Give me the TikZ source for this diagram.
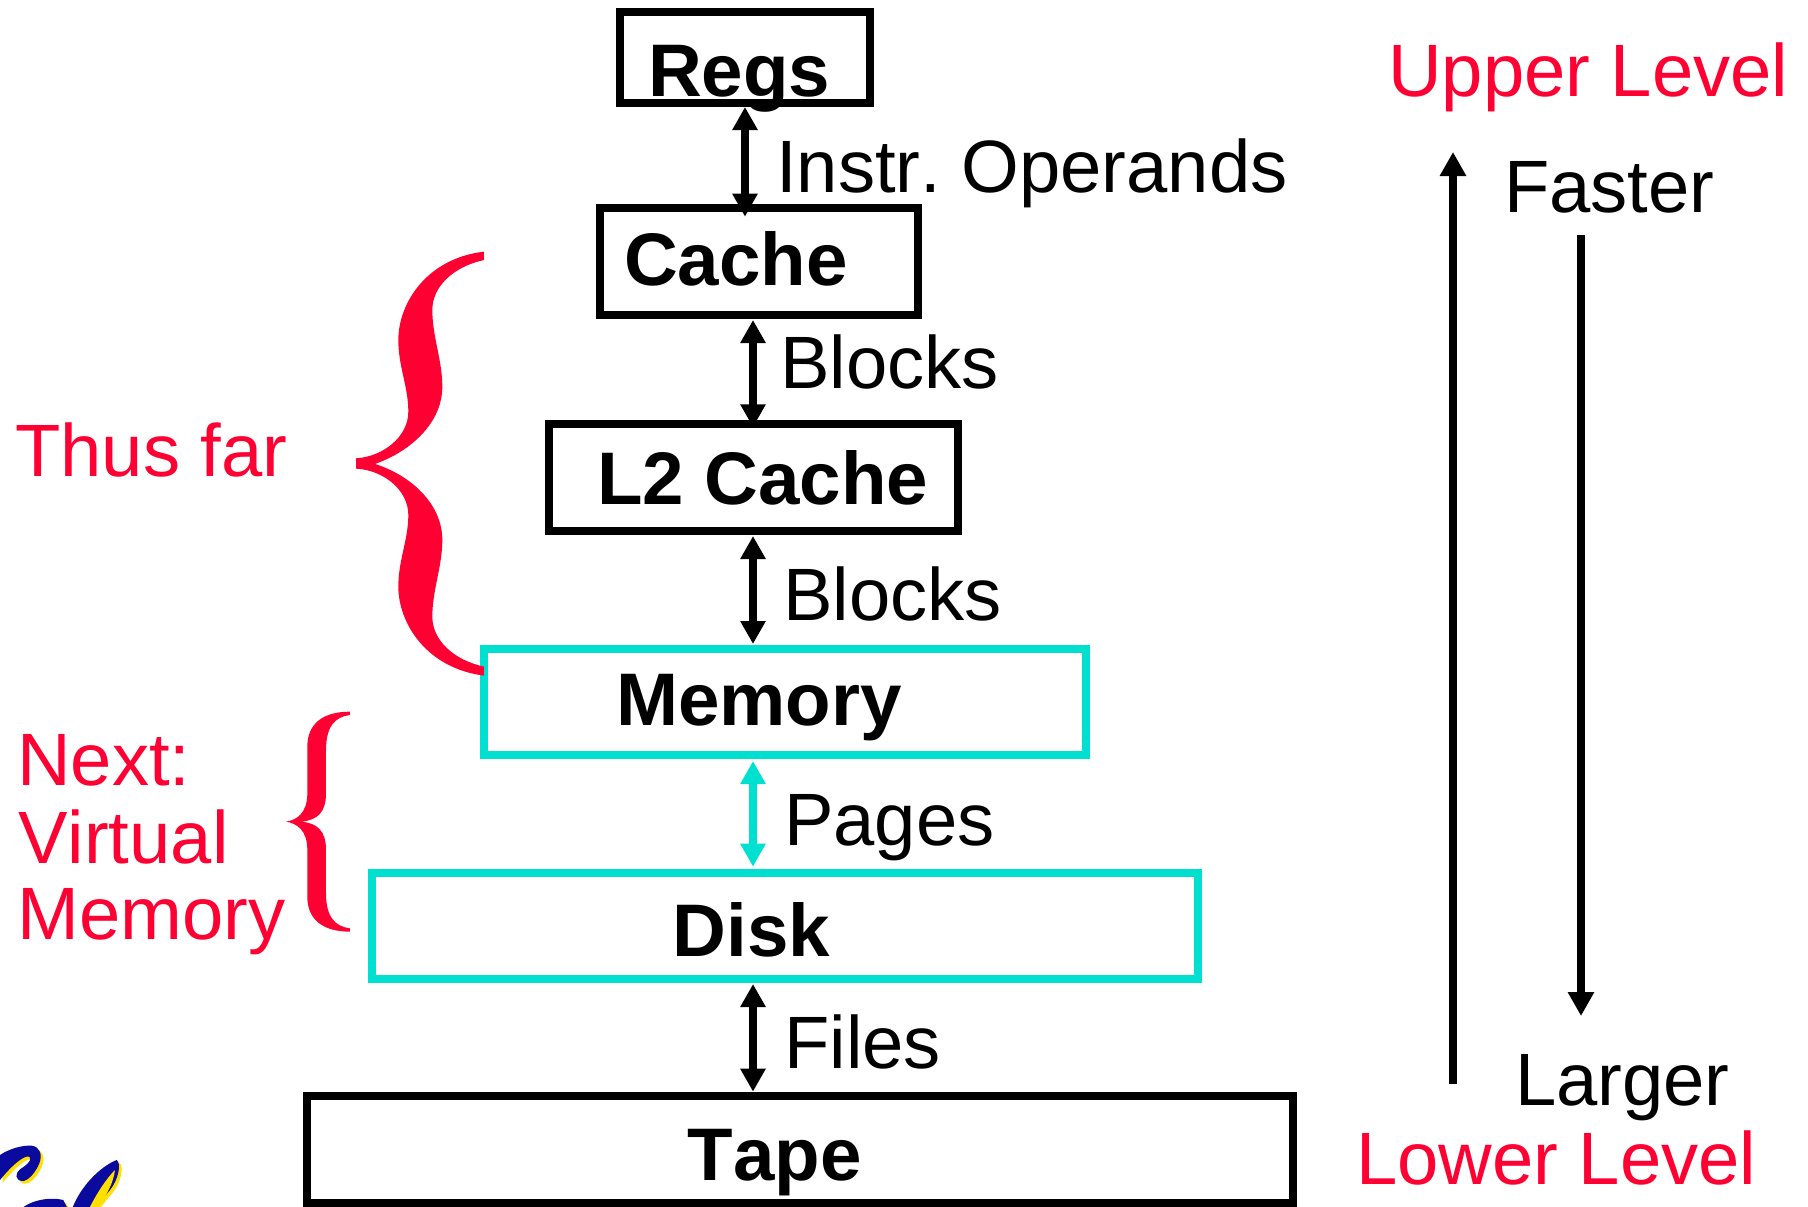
\documentclass[tikz,border=0pt]{standalone}
\usepackage{fontspec}
\setmainfont[Kerning=Off]{Liberation Sans}
\usetikzlibrary{arrows.meta}
\definecolor{hotred}{HTML}{FF0033}
\definecolor{teal2}{HTML}{00E0D0}
\definecolor{calblue}{HTML}{0A0A9E}
\definecolor{calgold}{HTML}{FFE000}
\tikzset{
  levelbox/.style={draw=black,line width=8pt,inner sep=0pt,outer sep=0pt,anchor=north west},
  vmbox/.style={levelbox,draw=teal2},
  boxlabel/.style={font=\fontsize{74.5}{76}\selectfont\bfseries,inner sep=0pt,anchor=base west},
  txt/.style={font=\fontsize{74.2}{76}\selectfont,inner sep=0pt,anchor=base west},
  redtxt/.style={txt,text=hotred},
  biarrow/.style={line width=7.5pt,{Triangle[length=23pt,width=24pt]}-{Triangle[length=23pt,width=24pt]}},
  longarrow/.style={line width=7.5pt,-{Triangle[length=24pt,width=25pt]}},
}
\begin{document}
\frenchspacing
\begin{tikzpicture}[x=1pt,y=-1pt]
\useasboundingbox (0,0) rectangle (1808,1207);
% boxes
\node[levelbox,minimum width=250.6pt,minimum height=91.3pt] (regs) at (619.7,12) {};
\node[levelbox,minimum width=318.6pt,minimum height=107pt] (cache) at (599.7,208.3) {};
\node[levelbox,minimum width=409pt,minimum height=107pt] (l2) at (549.4,424.3) {};
\node[vmbox,minimum width=602.3pt,minimum height=106.6pt] (mem) at (484,648.7) {};
\node[vmbox,minimum width=826.6pt,minimum height=106.3pt] (disk) at (371.7,872.7) {};
\node[levelbox,minimum width=986pt,minimum height=107pt] (tape) at (307.3,1096.3) {};
% box labels
\node[boxlabel] (lregs) at (648,96.7) {Regs};
\node[boxlabel] (lcache) at (624,285) {Cache};
\node[boxlabel] (ll2) at (597,504.6) {L2 Cache};
\node[boxlabel] (lmem) at (616,725) {Memory};
\node[boxlabel] (ldisk) at (672.5,956.7) {Disk};
\node[boxlabel] (ltape) at (687.5,1180.7) {Tape};
% connector labels
\node[txt] (t1) at (776,192) {Instr. Operands};
\node[txt] (t2) at (780,388.3) {Blocks};
\node[txt] (t3) at (783,620) {Blocks};
\node[txt] (t4) at (784,845) {Pages};
\node[txt] (t5) at (784,1068) {Files};
% connectors
\coordinate (ax) at (745,0);
\coordinate (bx) at (753,0);
\draw[biarrow,shorten <=3.7pt,shorten >=-8.4pt] (regs.south -| ax) -- (cache.north -| ax);
\draw[biarrow,shorten <=4.7pt,shorten >=-3pt] (cache.south -| bx) -- (l2.north -| bx);
\draw[biarrow,shorten <=4.7pt,shorten >=4.7pt] (l2.south -| bx) -- (mem.north -| bx);
\draw[biarrow,draw=teal2,fill=teal2,shorten <=5.7pt,shorten >=6pt] (mem.south -| bx) -- (disk.north -| bx);
\draw[biarrow,shorten <=5pt,shorten >=4.6pt] (disk.south -| bx) -- (tape.north -| bx);
% right side
\node[redtxt] (upper) at (1388,96) {Upper Level};
\node[txt] (faster) at (1504,212.5) {Faster};
\node[txt] (larger) at (1515,1105) {Larger};
\node[redtxt] (lower) at (1356,1184) {Lower Level};
\coordinate (upa) at (1453,1084);
\coordinate (upb) at (1453,152);
\coordinate (dna) at (1581,235);
\coordinate (dnb) at (1581,1016);
\draw[longarrow] (upa) -- (upb);
\draw[longarrow] (dna) -- (dnb);
% left text
\node[redtxt] (thus) at (15,476) {Thus far};
\node[redtxt] (next1) at (17,785) {Next:};
\node[redtxt] (next2) at (18,863) {Virtual};
\node[redtxt] (next3) at (17,939) {Memory};
% braces
\begin{scope}[shift={(340,230)},x=0.3333pt,y=-0.3333pt]
\fill[hotred] (432,65) .. controls (260,85) and (175,220) .. (175,330)
  .. controls (175,410) and (205,470) .. (205,545)
  .. controls (205,620) and (130,680) .. (48,685) -- (48,716)
  .. controls (130,720) and (205,780) .. (205,855)
  .. controls (205,930) and (175,990) .. (175,1070)
  .. controls (175,1180) and (260,1315) .. (432,1337) -- (432,1310)
  .. controls (340,1290) and (277,1230) .. (277,1160)
  .. controls (277,1080) and (307,1010) .. (307,930)
  .. controls (307,820) and (210,735) .. (105,702)
  .. controls (210,665) and (307,580) .. (307,470)
  .. controls (307,390) and (277,320) .. (277,240)
  .. controls (277,170) and (340,110) .. (432,90) -- cycle;
\end{scope}
\begin{scope}[shift={(270,690)},x=0.3333pt,y=-0.3333pt]
\fill[hotred] (240,65) .. controls (160,65) and (112,100) .. (112,170) -- (112,310)
  .. controls (112,370) and (80,390) .. (48,395)
  .. controls (80,400) and (112,420) .. (112,480) -- (112,620)
  .. controls (112,690) and (160,725) .. (240,725) -- (240,715)
  .. controls (195,710) and (168,680) .. (168,610) -- (168,480)
  .. controls (168,420) and (140,400) .. (95,395)
  .. controls (140,390) and (168,370) .. (168,310) -- (168,180)
  .. controls (168,110) and (195,80) .. (240,75) -- cycle;
\end{scope}
% logo fragment
\begin{scope}[shift={(0,1100)},x=0.3333pt,y=-0.3333pt]
\clip (0,0) rectangle (600,321);
\begin{scope}[shift={(8,8)}]
\fill[calgold] (0,165) .. controls (30,145) and (70,135) .. (95,137) .. controls (120,140) and (128,165) .. (118,190) .. controls (108,215) and (85,245) .. (65,243) .. controls (45,240) and (45,220) .. (60,208) .. controls (75,198) and (95,185) .. (90,172) .. controls (80,160) and (40,190) .. (0,240) -- cycle;
\fill[calgold] (60,330) .. controls (90,300) and (150,290) .. (190,300) -- (205,330) -- cycle;
\fill[calgold] (215,330) .. controls (240,260) and (300,200) .. (350,180) .. controls (365,190) and (355,240) .. (330,270) -- (280,330) -- cycle;
\end{scope}
\fill[calblue] (0,165) .. controls (30,145) and (70,135) .. (95,137) .. controls (120,140) and (128,165) .. (118,190) .. controls (108,215) and (85,245) .. (65,243) .. controls (45,240) and (45,220) .. (60,208) .. controls (75,198) and (95,185) .. (90,172) .. controls (80,160) and (40,190) .. (0,240) -- cycle;
\fill[calblue] (60,330) .. controls (90,300) and (150,290) .. (190,300) -- (205,330) -- cycle;
\fill[calblue] (215,330) .. controls (240,260) and (300,200) .. (350,180) .. controls (365,190) and (355,240) .. (330,270) -- (280,330) -- cycle;
\fill[calgold] (268,325) .. controls (290,280) and (320,235) .. (345,210) .. controls (340,250) and (320,285) .. (292,325) -- cycle;
\end{scope}
\end{tikzpicture}
\end{document}
